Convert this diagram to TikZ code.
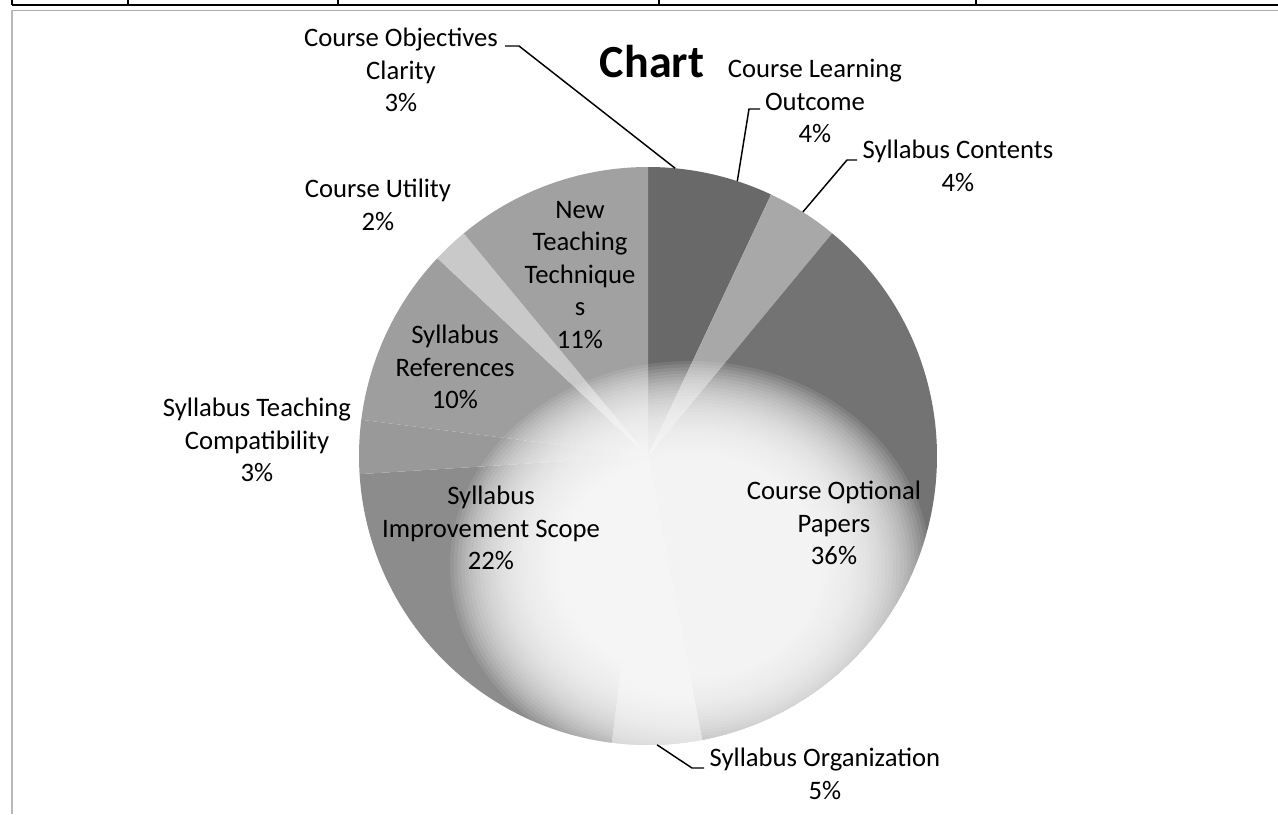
\documentclass[tikz,border=0pt]{standalone}
\usepackage{fontspec}
\setmainfont{Carlito}
\definecolor{cDark}{gray}{0.41}
\definecolor{cSC}{gray}{0.66}
\definecolor{cCOP}{gray}{0.45}
\definecolor{cSO}{gray}{0.74}
\definecolor{cSIS}{gray}{0.55}
\definecolor{cSTC}{gray}{0.60}
\definecolor{cSR}{gray}{0.62}
\definecolor{cCU}{gray}{0.79}
\definecolor{cNTT}{gray}{0.63}
\newcommand{\pieslice}[3]{\fill[#3] (C) -- ++(#1:289) arc[start angle=#1, end angle=#2, radius=289] -- cycle;}
\begin{document}
\begin{tikzpicture}[x=0.75pt,y=-0.75pt,
  lbl/.style={font=\fontsize{20}{24.4}\selectfont, align=center, inner sep=0pt, text=black},
  leader/.style={draw=black, line width=1.1pt}]
\useasboundingbox (0,0) rectangle (1278,814);
\fill[white] (0,0) rectangle (1278,814);
% frame of the page / table
\draw[line width=1.9pt] (12,5) -- (1278,5);
\foreach \x in {12,128,338,659,976} \draw[line width=1.3pt] (\x,0) -- (\x,5);
\draw[gray!65, line width=1.2pt] (12,10.5) -- (1278,10.5);
\draw[gray!55, line width=0.8pt] (12,10) -- (12,814);
% pie
\coordinate (C) at (648,456);
\pieslice{-90}{-64.8}{cDark}
\pieslice{-64.8}{-50.4}{cSC}
\pieslice{-50.4}{79.2}{cCOP}
\pieslice{79.2}{97.2}{cSO}
\pieslice{97.2}{176.4}{cSIS}
\pieslice{176.4}{187.2}{cSTC}
\pieslice{187.2}{223.2}{cSR}
\pieslice{223.2}{230.4}{cCU}
\pieslice{230.4}{270}{cNTT}
% washed-out light area of the scan
\begin{scope}
\clip (C) circle[radius=289];
\foreach \i in {0,...,29}
  \fill[white, opacity=0.095] (690,566) ellipse[x radius={240*(1-0.45*\i/29)}, y radius={205*(1-0.45*\i/29)}];
\end{scope}
% rim points and leader coordinates
\path (C) ++(-84.6:289) coordinate (rCOC);
\path (C) ++(-72:289) coordinate (rCLO);
\path (C) ++(-57.6:289) coordinate (rSC);
\path (C) ++(88.2:289) coordinate (rSO);
\coordinate (cocA) at (505,46);
\coordinate (cocB) at (519,46);
\coordinate (cloA) at (760,109);
\coordinate (cloB) at (749,109);
\coordinate (scA) at (857,160);
\coordinate (scB) at (847,160);
\coordinate (soA) at (704,768);
\coordinate (soB) at (692,768);
\draw[leader] (cocA) -- (cocB) -- (rCOC);
\draw[leader] (cloA) -- (cloB) -- (rCLO);
\draw[leader] (scA) -- (scB) -- (rSC);
\draw[leader] (soA) -- (soB) -- (rSO);
% title
\node[font=\fontsize{34.5}{40}\selectfont\bfseries, anchor=base, inner sep=0pt] (title) at (652,77) {Chart};
% outside labels
\node[lbl] (lCOC) at (401,70) {Course Objectives\\Clarity\\3\%};
\node[lbl] (lCLO) at (815,101) {Course Learning\\Outcome\\4\%};
\node[lbl] (lSC) at (958,166) {Syllabus Contents\\4\%};
\node[lbl] (lCU) at (378,205) {Course Utility\\2\%};
\node[lbl] (lSTC) at (257,440) {Syllabus Teaching\\Compatibility\\3\%};
\node[lbl] (lSO) at (825,774) {Syllabus Organization\\5\%};
% inside labels
\node[lbl] (lNTT) at (580,275) {New\\Teaching\\Technique\\s\\11\%};
\node[lbl] (lSR) at (455,367) {Syllabus\\References\\10\%};
\node[lbl] (lSIS) at (491,528) {Syllabus\\Improvement Scope\\22\%};
\node[lbl] (lCOP) at (834,523) {Course Optional\\Papers\\36\%};
\end{tikzpicture}
\end{document}
